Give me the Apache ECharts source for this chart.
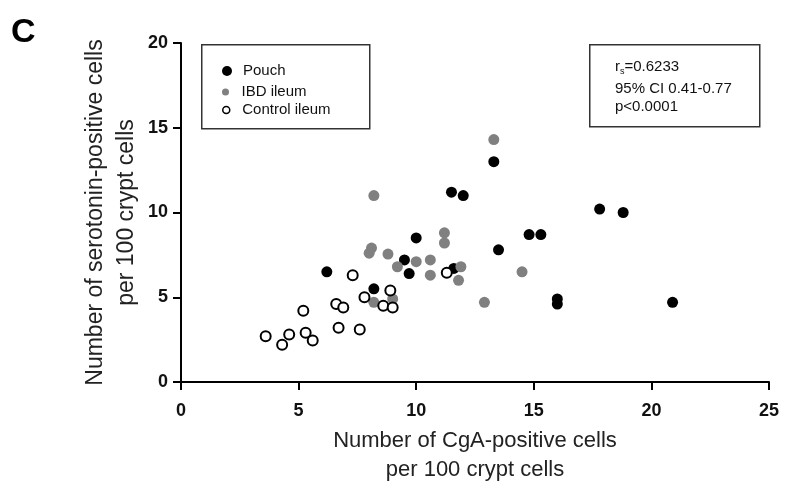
<!DOCTYPE html>
<html>
<head>
<meta charset="utf-8">
<script src="https://cdn.jsdelivr.net/npm/echarts@6/dist/echarts.min.js"></script>
<style>
  html, body { margin: 0; padding: 0; background: #fff; }
  #chart { width: 792px; height: 488px; }
</style>
</head>
<body>
<div id="chart"></div>
<script>
// CgA-positive vs serotonin-positive cells per 100 crypt cells, by tissue group
const pouch = [
  [6.2, 6.5], [8.2, 5.5], [9.5, 7.2], [9.7, 6.4], [10.0, 8.5], [11.6, 6.7],
  [11.5, 11.2], [12.0, 11.0], [13.3, 13.0], [13.5, 7.8], [14.8, 8.7], [15.3, 8.7],
  [16.0, 4.9], [16.0, 4.6], [17.8, 10.2], [18.8, 10.0], [20.9, 4.7]
];
const ibdIleum = [
  [8.2, 11.0], [8.1, 7.9], [8.0, 7.6], [8.8, 7.55], [9.2, 6.8], [10.0, 7.1],
  [10.6, 7.2], [10.6, 6.3], [11.2, 8.8], [11.2, 8.2], [11.9, 6.8], [11.8, 6.0],
  [12.9, 4.7], [13.3, 14.3], [14.5, 6.5], [8.2, 4.7], [9.0, 4.9]
];
const controlIleum = [
  [3.6, 2.7], [4.3, 2.2], [4.6, 2.8], [5.2, 4.2], [5.3, 2.9], [5.6, 2.45],
  [6.6, 4.6], [6.9, 4.4], [6.7, 3.2], [7.6, 3.1], [7.3, 6.3], [7.8, 5.0],
  [8.6, 4.5], [8.9, 5.4], [9.0, 4.4], [11.3, 6.45]
];
const xTickValues = [0, 5, 10, 15, 20, 25];
const yTickValues = [0, 5, 10, 15, 20];
const statLines = ['=0.6233', '95% CI 0.41-0.77', 'p<0.0001'];

const FONT = '"Liberation Sans", Arial, sans-serif';
const chart = echarts.init(document.getElementById('chart'));

const axisCommon = {
  type: 'value',
  splitLine: { show: false },
  axisLine: { show: true, lineStyle: { color: '#000', width: 2 } },
  axisTick: { show: true, inside: false, length: 8, lineStyle: { color: '#000', width: 2 } },
  nameLocation: 'middle',
  nameMoveOverlap: false
};

const legendCommon = {
  orient: 'vertical',
  left: 222,
  itemWidth: 22,
  padding: 0,
  textStyle: { fontFamily: FONT, fontSize: 15, color: '#111', lineHeight: 16 },
  selectedMode: false
};

chart.setOption({
  animation: false,
  backgroundColor: '#fff',
  grid: { left: 181, right: 23, top: 43, bottom: 106, containLabel: false, outerBoundsMode: 'none' },
  xAxis: Object.assign({}, axisCommon, {
    min: xTickValues[0],
    max: xTickValues[xTickValues.length - 1],
    interval: 5,
    name: 'Number of CgA-positive cells\nper 100 crypt cells',
    nameGap: 44,
    nameTextStyle: { fontFamily: FONT, fontSize: 22, color: '#222', lineHeight: 29 },
    axisLabel: { margin: 20, fontFamily: FONT, fontSize: 18, fontWeight: 'bold', color: '#111' }
  }),
  yAxis: Object.assign({}, axisCommon, {
    min: yTickValues[0],
    max: yTickValues[yTickValues.length - 1],
    interval: 5,
    name: 'Number of serotonin-positive cells\nper 100 crypt cells',
    nameGap: 39,
    nameTextStyle: { fontFamily: FONT, fontSize: 23, color: '#222', lineHeight: 31 },
    axisLabel: { margin: 13, fontFamily: FONT, fontSize: 18, fontWeight: 'bold', color: '#111' }
  }),
  legend: [
    Object.assign({}, legendCommon, { data: ['Pouch'], top: 63, itemHeight: 10 }),
    Object.assign({}, legendCommon, { data: ['IBD ileum'], top: 84, itemHeight: 7 }),
    Object.assign({}, legendCommon, {
      data: [{ name: 'Control ileum', itemStyle: { borderWidth: 1.5 } }],
      top: 102, itemHeight: 7
    })
  ],
  graphic: [
    {
      type: 'rect', left: 201, top: 44, z: 0,
      shape: { width: 168, height: 84 },
      style: { fill: '#fff', stroke: '#333', lineWidth: 1.5 }
    },
    {
      type: 'rect', left: 589, top: 44, z: 0,
      shape: { width: 170, height: 82 },
      style: { fill: '#fff', stroke: '#333', lineWidth: 1.5 }
    },
    {
      type: 'text', left: 615, top: 59, z: 10,
      style: {
        text: '{r|r}{s|s}{r|' + statLines[0] + '}',
        rich: {
          r: { fontFamily: FONT, fontSize: 15, fill: '#111', lineHeight: 18, verticalAlign: 'middle' },
          s: { fontFamily: FONT, fontSize: 9, fill: '#111', lineHeight: 18, verticalAlign: 'bottom', padding: [8, 0, 0, 0] }
        }
      }
    },
    {
      type: 'text', left: 615, top: 81, z: 10,
      style: { text: statLines[1], fontFamily: FONT, fontSize: 15, fill: '#111' }
    },
    {
      type: 'text', left: 615, top: 99, z: 10,
      style: { text: statLines[2], fontFamily: FONT, fontSize: 15, fill: '#111' }
    },
    {
      type: 'text', left: 11, top: 16, z: 10,
      style: { text: 'C', fontFamily: FONT, fontSize: 34, fontWeight: 'bold', fill: '#000' }
    }
  ],
  series: [
    {
      name: 'Pouch', type: 'scatter', data: pouch, symbol: 'circle', symbolSize: 11,
      itemStyle: { color: '#000', opacity: 1 }, z: 3
    },
    {
      name: 'IBD ileum', type: 'scatter', data: ibdIleum, symbol: 'circle', symbolSize: 11,
      itemStyle: { color: '#808080', opacity: 1 }, z: 4
    },
    {
      name: 'Control ileum', type: 'scatter', data: controlIleum, symbol: 'circle', symbolSize: 10,
      itemStyle: { color: '#fff', borderColor: '#000', borderWidth: 2, opacity: 1 }, z: 5
    }
  ]
});
</script>
</body>
</html>
